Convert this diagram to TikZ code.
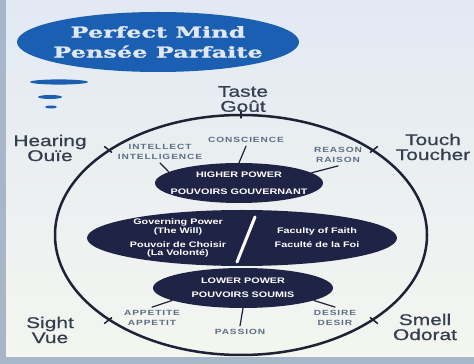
\documentclass[tikz,border=0pt]{standalone}
\usepackage{fontspec}
\usepackage{tikz}
\usetikzlibrary{shapes.geometric,calc}
\newfontfamily\sensefont[FakeStretch=1.35]{Liberation Sans}
\newfontfamily\bigsensefont[FakeStretch=1.35,FakeBold=0.8]{Liberation Sans}
\newfontfamily\smallfont[FakeStretch=1.35,LetterSpace=12]{Liberation Sans}
\newfontfamily\titlefont[FakeStretch=1.6,FakeBold=1.6]{DejaVu Serif Bold}
\definecolor{titleblue}{HTML}{1A5FB2}
\definecolor{navy}{HTML}{1F2447}
\definecolor{ringcol}{HTML}{1E2236}
\definecolor{labelgray}{HTML}{5D6E86}
\definecolor{sensegray}{HTML}{363F4F}
\definecolor{framecol}{HTML}{A8B6C9}

\begin{document}
\begin{tikzpicture}[x=1pt,y=1pt,line cap=round,line join=round,
    darkoval/.style={ellipse,fill=navy,inner sep=0pt},
    ovaltext/.style={text=white,align=center,font=\sensefont\bfseries\fontsize{8}{#1}\selectfont},
    ovaltext/.default=9,
    sense/.style={text=sensegray,align=center,font=\bigsensefont\fontsize{15.5}{15}\selectfont},
    faculty/.style={text=labelgray,align=center,font=\smallfont\bfseries\fontsize{7.5}{9.5}\selectfont},
    link/.style={ringcol,line width=1.2pt}]

    % --- background and frame ---
    \useasboundingbox (0,0) rectangle (474,364);
    \shade[top color={rgb,255:red,226;green,233;blue,243},bottom color={rgb,255:red,244;green,246;blue,239}] (0,0) rectangle (474,364);
    \fill[framecol] (0,0) rectangle (6,364);
    \fill[framecol] (0,0) rectangle (474,7);

    % --- title ---
    \node[ellipse,fill=titleblue,minimum width=282pt,minimum height=60pt,inner sep=0pt] (title) at (158,322) {};
    \node[text={rgb,255:red,224;green,231;blue,241},align=center,font=\titlefont\fontsize{15}{20}\selectfont] at (title) {Perfect Mind\\Pens\'ee Parfaite};

    % blue dashes
    \fill[titleblue] (59,282) ellipse [x radius=29, y radius=2.6];
    \fill[titleblue] (50,267) ellipse [x radius=12, y radius=2];
    \fill[titleblue] (51,257) ellipse [x radius=6, y radius=1.5];

    % --- the ring of the senses ---
    \coordinate (ring) at (241,129);
    \draw[ringcol,line width=2.5pt] (ring) ellipse [x radius=186, y radius=120];
    \foreach \a in {45,90,135,225,315}
        \draw[ringcol,line width=1.5pt] ($(ring)+(\a:183 and 117)$) -- ($(ring)+(\a:193 and 125)$);

    \node[sense] (taste) at (243,265) {Taste\\Go\^ut};
    \node[sense] (hearing) at (50,216) {Hearing\\Ou\"ie};
    \node[sense] (touch) at (433,217) {Touch\\Toucher};
    \node[sense] (sight) at (50,34) {Sight\\Vue};
    \node[sense] (smell) at (425,37) {Smell\\Odorat};

    % --- powers ---
    \node[darkoval,minimum width=168pt,minimum height=40pt] (high) at (239,181) {};
    \node[ovaltext=17] at (high) {HIGHER POWER\\POUVOIRS GOUVERNANT};

    \node[darkoval,minimum width=310pt,minimum height=56pt] (mid) at (242,126) {};
    \draw[white,line width=3pt] (255,147) -- (237,102);
    \node[ovaltext=8.5] (will) at (178,137) {Governing Power\\(The Will)};
    \node[ovaltext=8.5] (choix) at (178,114.5) {Pouvoir de Choisir\\(La Volont\'e)};
    \node[ovaltext] (faith) at (317,133) {Faculty of Faith};
    \node[ovaltext] (foi) at (317,119) {Facult\'e de la Foi};

    \node[darkoval,minimum width=180pt,minimum height=40pt] (low) at (243,76) {};
    \node[ovaltext=14] at (low) {LOWER POWER\\POUVOIRS SOUMIS};

    % --- faculties ---
    \node[faculty] (cons) at (246,224) {CONSCIENCE};
    \node[faculty] (intel) at (160,212) {INTELLECT\\INTELLIGENCE};
    \node[faculty] (reason) at (338,209) {REASON\\RAISON};
    \node[faculty] (appet) at (152,46) {APPETITE\\APPETIT};
    \node[faculty] (pass) at (240,32) {PASSION};
    \node[faculty] (desire) at (335,46) {DESIRE\\DESIR};

    \draw[link] (cons.south) -- (high.north);
    \draw[link] (intel.south) -- (high.171);
    \draw[link] (reason.south) -- (high.8);
    \draw[link] (appet.north) -- (low.190);
    \draw[link] (pass.north) -- (low.south);
    \draw[link] (desire.north) -- (low.350);

\end{tikzpicture}
\end{document}
